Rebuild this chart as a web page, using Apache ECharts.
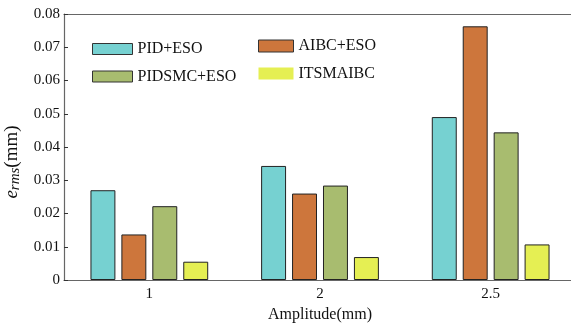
<!DOCTYPE html>
<html>
<head>
<meta charset="utf-8">
<script src="https://cdn.jsdelivr.net/npm/echarts@6/dist/echarts.min.js"></script>
<style>
  html, body { margin: 0; padding: 0; background: #fff; }
  #chart { width: 571px; height: 324px; }
</style>
</head>
<body>
<div id="chart"></div>
<script>
// Amplitudes tested (category axis)
var amplitudes = ['1', '2', '2.5'];

// RMS tracking error per controller (mm)
var pidEso    = [0.0270, 0.0343, 0.0490];
var aibcEso   = [0.0137, 0.0260, 0.0763];
var pidsmcEso = [0.0222, 0.0284, 0.0444];
var itsmaibc  = [0.0055, 0.0069, 0.0107];

var seriesNames  = ['PID+ESO', 'AIBC+ESO', 'PIDSMC+ESO', 'ITSMAIBC'];
var seriesColors = ['#76D1D1', '#CD763C', '#A8BC6F', '#E5EF53'];
var seriesData   = [pidEso, aibcEso, pidsmcEso, itsmaibc];

var FONT = 'Liberation Serif';
var AXIS_COLOR = '#666';

var chart = echarts.init(document.getElementById('chart'), null, { renderer: 'canvas' });

var legendText = { fontFamily: FONT, fontSize: 16, color: '#111' };

chart.setOption({
  animation: false,
  backgroundColor: '#fff',
  textStyle: { fontFamily: FONT },
  grid: { left: 64, right: -5, top: 14, bottom: 44, containLabel: false, outerBoundsMode: 'none' },
  legend: [
    {
      data: [seriesNames[0], seriesNames[2]],
      orient: 'vertical', left: 92, top: 41, padding: 0,
      icon: 'rect',
      itemWidth: 40, itemHeight: 11, itemGap: 11.5,
      textStyle: legendText,
      itemStyle: { borderColor: '#333', borderWidth: 1 }
    },
    {
      data: [seriesNames[1], { name: seriesNames[3], itemStyle: { borderWidth: 0 } }],
      orient: 'vertical', left: 258, top: 38, padding: 0,
      icon: 'rect',
      itemWidth: 35, itemHeight: 12, itemGap: 11.5,
      textStyle: legendText,
      itemStyle: { borderColor: '#333', borderWidth: 1 }
    }
  ],
  xAxis: [
    {
      type: 'category',
      data: amplitudes,
      name: 'Amplitude(mm)',
      nameLocation: 'middle',
      nameGap: 23,
      nameTextStyle: { fontFamily: FONT, fontSize: 16, color: '#111' },
      axisLine: { lineStyle: { color: AXIS_COLOR, width: 1.2 } },
      axisTick: { inside: true, alignWithLabel: true, length: 4, lineStyle: { color: '#333' } },
      axisLabel: { fontFamily: FONT, fontSize: 15, color: '#111', margin: 7 },
      splitLine: { show: false }
    },
    {
      type: 'category',
      data: amplitudes,
      position: 'top',
      axisLine: { lineStyle: { color: AXIS_COLOR, width: 1.2 } },
      axisTick: { inside: true, alignWithLabel: true, length: 4, lineStyle: { color: '#333' } },
      axisLabel: { show: false },
      splitLine: { show: false }
    }
  ],
  yAxis: {
    type: 'value',
    min: 0, max: 0.08, interval: 0.01,
    name: '{e|e}{s|rms}{u|(mm)}',
    nameLocation: 'middle',
    nameGap: 37,
    nameRotate: 90,
    nameTextStyle: {
      rich: {
        e: { fontFamily: FONT, fontStyle: 'italic', fontSize: 19, color: '#111' },
        s: { fontFamily: FONT, fontStyle: 'italic', fontSize: 15, color: '#111', verticalAlign: 'bottom', padding: [6, 0, 0, 0] },
        u: { fontFamily: FONT, fontSize: 19, color: '#111' }
      },
      padding: [0, 30, 0, 0]
    },
    axisLine: { show: true, lineStyle: { color: AXIS_COLOR, width: 1.2 } },
    axisTick: { show: true, inside: true, length: 4, lineStyle: { color: '#333' } },
    axisLabel: { fontFamily: FONT, fontSize: 15, color: '#111', margin: 4 },
    splitLine: { show: false }
  },
  series: seriesNames.map(function (name, i) {
    return {
      name: name,
      type: 'bar',
      xAxisIndex: 0,
      data: seriesData[i],
      barGap: '24%',
      barCategoryGap: '31%',
      itemStyle: { color: seriesColors[i], borderColor: '#222', borderWidth: 1 }
    };
  })
});
</script>
</body>
</html>
